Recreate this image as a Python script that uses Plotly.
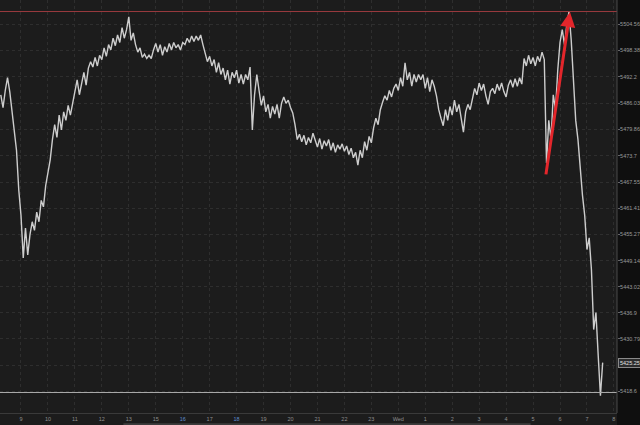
import numpy as np
import plotly.graph_objects as go

# 5-minute prices, session hours counted from the 9:00 label (break hour skipped)
start_hour = -0.75
prices = [
    5488.0, 5485.0, 5489.0, 5492.0, 5488.75, 5484.0, 5480.25, 5475.0, 5465.75, 5459.75,
    5449.75, 5456.75, 5450.5, 5455.25, 5458.25, 5456.25, 5460.5, 5458.25, 5463.25, 5461.75,
    5466.75, 5470.0, 5472.75, 5477.5, 5481.0, 5478.0, 5483.25, 5479.75, 5484.0, 5482.0,
    5485.5, 5483.25, 5486.25, 5488.75, 5491.5, 5488.0, 5491.0, 5493.25, 5490.25, 5494.25,
    5495.75, 5494.5, 5496.75, 5494.75, 5497.25, 5496.25, 5499.0, 5497.0, 5499.75, 5498.5,
    5501.25, 5499.5, 5502.0, 5500.25, 5503.75, 5501.25, 5503.25, 5506.25, 5500.75, 5502.5,
    5499.75, 5498.0, 5499.0, 5496.75, 5497.5, 5496.5, 5497.25, 5496.5, 5498.5, 5500.0,
    5498.0, 5499.75, 5497.25, 5499.25, 5498.0, 5500.0, 5498.5, 5500.25, 5499.0, 5499.75,
    5498.5, 5500.25, 5499.75, 5501.25, 5500.25, 5501.75, 5500.5, 5501.75, 5500.75, 5502.0,
    5499.75, 5498.0, 5495.75, 5497.0, 5494.75, 5496.25, 5493.25, 5495.5, 5492.75, 5494.25,
    5491.5, 5493.75, 5490.5, 5493.25, 5492.0, 5493.75, 5490.75, 5492.75, 5490.5, 5492.75,
    5491.5, 5494.5, 5479.75, 5488.0, 5492.75, 5489.0, 5485.5, 5487.75, 5484.0, 5485.75,
    5482.5, 5485.25, 5483.5, 5485.75, 5482.5, 5486.0, 5487.5, 5486.0, 5486.75, 5485.0,
    5483.75, 5481.0, 5477.5, 5478.75, 5477.0, 5478.5, 5476.25, 5478.0, 5476.75, 5479.0,
    5477.5, 5475.75, 5477.75, 5475.25, 5477.25, 5476.0, 5477.5, 5475.0, 5476.75, 5474.5,
    5476.25, 5475.25, 5476.5, 5474.75, 5476.0, 5474.0, 5475.5, 5473.25, 5474.5, 5471.5,
    5475.0, 5473.25, 5477.0, 5475.0, 5478.25, 5476.75, 5480.25, 5482.5, 5481.0, 5484.5,
    5486.25, 5487.75, 5486.75, 5489.0, 5487.5, 5489.5, 5490.5, 5489.0, 5492.0, 5490.0,
    5495.5, 5491.5, 5493.25, 5490.0, 5492.75, 5491.0, 5492.75, 5491.5, 5492.75, 5489.5,
    5492.0, 5488.75, 5491.5, 5490.0, 5487.75, 5484.5, 5482.5, 5480.75, 5484.5, 5482.0,
    5485.25, 5483.25, 5486.75, 5484.0, 5485.75, 5482.5, 5479.25, 5484.0, 5485.75, 5484.5,
    5487.25, 5489.5, 5488.0, 5490.75, 5489.0, 5490.5, 5487.75, 5485.75, 5488.75, 5489.5,
    5488.25, 5490.5, 5489.0, 5490.75, 5488.75, 5487.5, 5490.25, 5491.5, 5489.75, 5491.75,
    5490.0, 5492.0, 5490.5, 5496.5, 5494.75, 5497.25, 5495.25, 5496.75, 5494.75, 5497.0,
    5495.75, 5498.0, 5496.25, 5472.0, 5482.0, 5477.5, 5488.0, 5484.5, 5493.75, 5500.25,
    5503.25, 5499.75, 5504.25, 5507.5, 5500.75, 5489.5, 5482.0, 5477.5, 5470.5, 5464.5,
    5459.75, 5451.75, 5454.5, 5447.0, 5433.0, 5437.0, 5427.0, 5417.5, 5425.25,
]
hours = start_hour + np.arange(len(prices)) / 12.0

hour_labels = ["9", "10", "11", "12", "13", "15", "16", "17", "18", "19", "20", "21",
               "22", "23", "Wed", "1", "2", "3", "4", "5", "6", "7", "8"]
blue_labels = {"16", "18"}
tick_text = [f'<span style="color:#5f8ccc">{t}</span>' if t in blue_labels else t
             for t in hour_labels]

y_ticks = [5504.56, 5498.38, 5492.2, 5486.03, 5479.86, 5473.7, 5467.55, 5461.41,
           5455.27, 5449.14, 5443.02, 5436.9, 5430.79, 5424.66, 5418.6]
y_tick_text = ["5504.56", "5498.38", "5492.2", "5486.03", "5479.86", "5473.7", "5467.55",
               "5461.41", "5455.27", "5449.14", "5443.02", "5436.9", "5430.79", "5424.66",
               "5418.6"]

high_line = 5507.5
low_line = 5418.25
last_price = 5425.25
arrow_from = (19.47, 5469.0)
arrow_to = (20.37, 5507.4)

fig = go.Figure()
fig.add_trace(go.Scatter(x=hours, y=prices, mode="lines",
                         line=dict(color="#cdcdcd", width=1.4), hoverinfo="skip"))

fig.add_shape(type="line", xref="paper", x0=0, x1=1, yref="y", y0=high_line, y1=high_line,
              line=dict(color="#9a3a3e", width=1))
fig.add_shape(type="line", xref="paper", x0=0, x1=1, yref="y", y0=low_line, y1=low_line,
              line=dict(color="#a8a8a8", width=1))
# right price panel
fig.add_shape(type="rect", xref="paper", yref="paper", x0=1, x1=1.04, y0=-0.03, y1=1,
              fillcolor="#0f0f0f", line=dict(width=0), layer="below")
fig.add_shape(type="line", xref="paper", yref="paper", x0=1, x1=1, y0=0, y1=1,
              line=dict(color="#4a4a4a", width=1))
# bottom scrollbar strip
fig.add_shape(type="rect", xref="paper", yref="paper", x0=0.2, x1=0.86, y0=-0.031, y1=-0.025,
              fillcolor="#3c3c3c", line=dict(width=0))

fig.add_annotation(x=arrow_to[0], y=arrow_to[1], ax=arrow_from[0], ay=arrow_from[1],
                   xref="x", yref="y", axref="x", ayref="y", text="", showarrow=True,
                   arrowhead=2, arrowsize=1, arrowwidth=3, arrowcolor="#e3262b")
fig.add_annotation(x=1, xref="paper", y=last_price, yref="y", xanchor="left", xshift=1,
                   text=f"{last_price:.2f}", showarrow=False,
                   font=dict(size=5.5, color="#e0e0e0", family="Arial"),
                   bgcolor="#2c2c2c", bordercolor="#8a8a8a", borderwidth=1, borderpad=1)

fig.update_layout(
    width=640, height=425,
    margin=dict(l=0, r=23, t=0, b=12),
    paper_bgcolor="#1c1c1c", plot_bgcolor="#1c1c1c",
    showlegend=False,
    xaxis=dict(range=[-0.779, 22.115], tickmode="array", tickvals=list(range(len(hour_labels))),
               ticktext=tick_text, tickfont=dict(size=5.5, color="#8f8f8f", family="Arial"),
               showgrid=True, gridcolor="#2e2e2e", griddash="dot", gridwidth=1,
               zeroline=False, showline=True, linecolor="#3a3a3a", ticks="",
               automargin=False, fixedrange=True),
    yaxis=dict(range=[5413.45, 5510.2], side="right", tickmode="array", tickvals=y_ticks,
               ticktext=y_tick_text, tickfont=dict(size=5.5, color="#9a9a9a", family="Arial"),
               showgrid=True, gridcolor="#2e2e2e", griddash="dot", gridwidth=1,
               zeroline=False, ticks="outside", ticklen=2, tickcolor="#666666",
               ticklabelstandoff=-1, automargin=False, fixedrange=True),
)

fig.write_html("out.html", config={"displayModeBar": False},
               post_script="document.body.style.margin='0';document.body.style.background='#1c1c1c';")
